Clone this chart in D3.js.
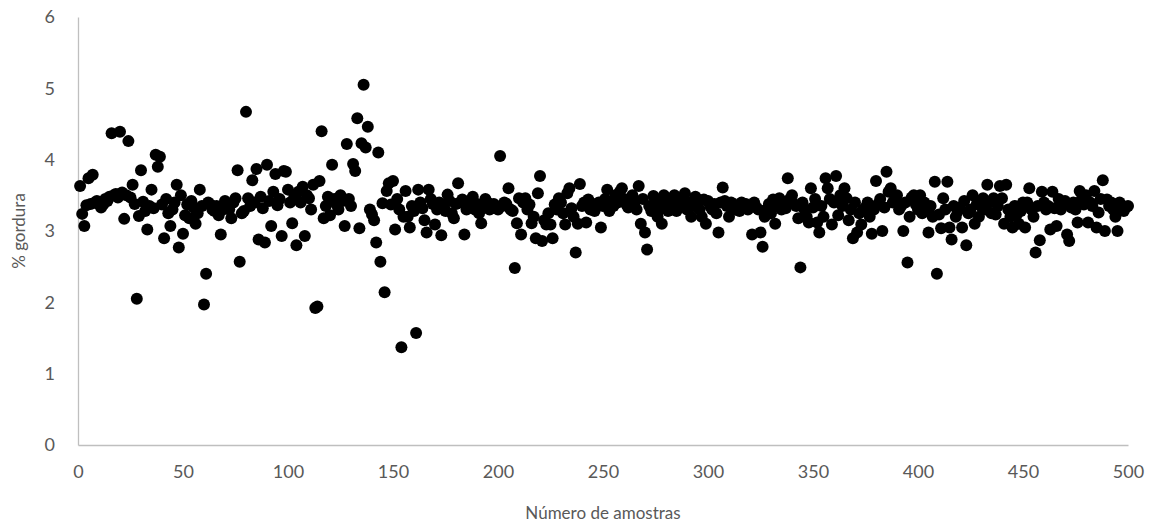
<!DOCTYPE html>
<html>
<head>
<meta charset="utf-8">
<script src="https://cdn.jsdelivr.net/npm/d3@7"></script>
<style>
  body { margin: 0; background: #fff; }
  text { font-family: Lato, "Open Sans", sans-serif; fill: #595959; }
</style>
</head>
<body>
<div class="chart"></div>
<script>
// Chart size
let width = 1150;
let height = 527;

// Plot area edges
let margin = { top: 17, right: 22, bottom: 82, left: 78 };

// Axis ticks
const xTicks = [0, 50, 100, 150, 200, 250, 300, 350, 400, 450, 500];
const yTicks = [0, 1, 2, 3, 4, 5, 6];

// Axis titles
const xTitle = "Número de amostras";
const yTitle = "% gordura";

// % gordura per sample (sample 1 to 500)
const gordura = [
    3.63, 3.24, 3.07, 3.36, 3.74, 3.38, 3.79, 3.40, 3.42, 3.38,
    3.33, 3.37, 3.45, 3.42, 3.48, 4.37, 3.50, 3.52, 3.47, 4.39,
    3.54, 3.17, 3.50, 4.26, 3.47, 3.65, 3.38, 2.05, 3.21, 3.85,
    3.41, 3.28, 3.02, 3.35, 3.58, 3.32, 4.07, 3.90, 4.04, 3.37,
    2.90, 3.45, 3.25, 3.07, 3.30, 3.40, 3.65, 2.77, 3.50, 2.96,
    3.22, 3.37, 3.18, 3.42, 3.33, 3.10, 3.25, 3.58, 3.35, 1.97,
    2.40, 3.40, 3.37, 3.30, 3.28, 3.35, 3.22, 2.95, 3.30, 3.42,
    3.39, 3.30, 3.18, 3.40, 3.46, 3.85, 2.57, 3.25, 3.28, 4.67,
    3.46, 3.35, 3.71, 3.40, 3.87, 2.88, 3.48, 3.32, 2.84, 3.93,
    3.42, 3.07, 3.55, 3.80, 3.36, 3.45, 2.93, 3.84, 3.83, 3.58,
    3.40, 3.11, 3.48, 2.80, 3.55, 3.40, 3.62, 2.93, 3.50, 3.46,
    3.30, 3.65, 1.92, 1.94, 3.70, 4.40, 3.18, 3.35, 3.48, 3.22,
    3.93, 3.45, 3.38, 3.30, 3.50, 3.42, 3.07, 4.22, 3.45, 3.35,
    3.94, 3.84, 4.58, 3.04, 4.23, 5.05, 4.17, 4.46, 3.30, 3.23,
    3.15, 2.84, 4.10, 2.57, 3.39, 2.14, 3.56, 3.67, 3.37, 3.70,
    3.02, 3.45, 3.30, 1.37, 3.20, 3.56, 3.20, 3.05, 3.35, 3.28,
    1.57, 3.58, 3.40, 3.32, 3.15, 2.98, 3.58, 3.45, 3.38, 3.09,
    3.30, 3.40, 2.94, 3.36, 3.28, 3.51, 3.42, 3.25, 3.18, 3.38,
    3.67, 3.40, 3.44, 2.95, 3.30, 3.35, 3.40, 3.48, 3.30, 3.38,
    3.25, 3.11, 3.35, 3.45, 3.40, 3.30, 3.32, 3.38, 3.35, 3.30,
    4.05, 3.35, 3.40, 3.38, 3.60, 3.30, 3.28, 2.48, 3.11, 3.46,
    2.95, 3.40, 3.46, 3.30, 3.37, 3.11, 3.20, 2.90, 3.53, 3.77,
    2.86, 3.15, 3.09, 3.25, 3.09, 2.90, 3.37, 3.30, 3.46, 3.40,
    3.25, 3.09, 3.53, 3.60, 3.32, 3.20, 2.70, 3.10, 3.66, 3.35,
    3.40, 3.12, 3.44, 3.30, 3.38, 3.28, 3.35, 3.40, 3.05, 3.35,
    3.45, 3.58, 3.28, 3.40, 3.35, 3.50, 3.40, 3.55, 3.60, 3.45,
    3.38, 3.33, 3.45, 3.50, 3.40, 3.30, 3.63, 3.10, 3.45, 2.98,
    2.74, 3.35, 3.28, 3.49, 3.40, 3.20, 3.30, 3.10, 3.50, 3.40,
    3.28, 3.45, 3.38, 3.50, 3.28, 3.40, 3.35, 3.45, 3.53, 3.30,
    3.40, 3.20, 3.35, 3.48, 3.44, 3.30, 3.20, 3.44, 3.10, 3.42,
    3.35, 3.30, 3.38, 3.25, 2.98, 3.40, 3.61, 3.42, 3.35, 3.20,
    3.40, 3.38, 3.30, 3.35, 3.28, 3.40, 3.32, 3.38, 3.30, 3.35,
    2.95, 3.40, 3.33, 3.30, 2.98, 2.78, 3.20, 3.30, 3.38, 3.25,
    3.44, 3.10, 3.35, 3.46, 3.30, 3.40, 3.32, 3.74, 3.45, 3.50,
    3.38, 3.35, 3.18, 2.49, 3.40, 3.30, 3.20, 3.12, 3.60, 3.33,
    3.45, 3.12, 2.98, 3.35, 3.20, 3.74, 3.60, 3.45, 3.09, 3.40,
    3.77, 3.22, 3.50, 3.35, 3.60, 3.46, 3.15, 3.30, 2.90, 3.40,
    2.98, 3.25, 3.09, 3.30, 3.33, 3.40, 3.20, 2.96, 3.30, 3.70,
    3.38, 3.45, 3.00, 3.33, 3.83, 3.55, 3.60, 3.40, 3.45, 3.50,
    3.30, 3.35, 3.00, 3.40, 2.56, 3.20, 3.47, 3.50, 3.37, 3.30,
    3.50, 3.25, 3.40, 3.30, 2.98, 3.35, 3.20, 3.69, 2.40, 3.23,
    3.04, 3.46, 3.30, 3.69, 3.05, 2.88, 3.35, 3.20, 3.28, 3.33,
    3.05, 3.42, 2.80, 3.25, 3.30, 3.50, 3.10, 3.38, 3.20, 3.35,
    3.46, 3.30, 3.65, 3.40, 3.25, 3.46, 3.23, 3.35, 3.63, 3.46,
    3.10, 3.65, 3.30, 3.20, 3.05, 3.35, 3.23, 3.10, 3.28, 3.40,
    3.05, 3.40, 3.60, 3.30, 3.20, 2.70, 3.35, 2.87, 3.55, 3.40,
    3.30, 3.35, 3.02, 3.55, 3.32, 3.07, 3.45, 3.30, 3.38, 3.42,
    2.95, 2.86, 3.33, 3.40, 3.30, 3.12, 3.56, 3.45, 3.37, 3.50,
    3.12, 3.40, 3.35, 3.56, 3.05, 3.26, 3.45, 3.71, 3.00, 3.44,
    3.35, 3.40, 3.30, 3.20, 3.00, 3.40, 3.30, 3.28, 3.33, 3.35
];

// Pair sample number with value
const samples = gordura.map((v, i) => ({ n: i + 1, v: v }));

let svg = d3.select(".chart").append("svg")
    .attr("width", width)
    .attr("height", height);

const xScale = d3.scaleLinear()
    .domain([0, 500])
    .range([margin.left, width - margin.right]);

const yScale = d3.scaleLinear()
    .domain([0, 6])
    .range([height - margin.bottom, margin.top]);

// x axis, no tick marks
svg.append("g")
    .attr("transform", `translate(0, ${height - margin.bottom})`)
    .call(d3.axisBottom(xScale).tickValues(xTicks).tickFormat(d3.format("d")).tickSize(0).tickPadding(20));

// y axis, no tick marks
svg.append("g")
    .attr("transform", `translate(${margin.left}, 0)`)
    .call(d3.axisLeft(yScale).tickValues(yTicks).tickFormat(d3.format("d")).tickSize(0).tickPadding(23));

svg.selectAll(".domain").attr("stroke", "#bfbfbf").attr("stroke-width", 1.3);
svg.selectAll(".tick text")
    .style("font-family", "Lato, 'Open Sans', sans-serif")
    .style("font-size", "18px")
    .attr("fill", "#595959");

// points
svg.append("g").selectAll("circle")
    .data(samples)
    .enter().append("circle")
    .attr("cx", d => xScale(d.n))
    .attr("cy", d => yScale(d.v))
    .attr("r", 6)
    .attr("fill", "#000");

// axis titles
svg.append("text")
    .attr("x", (margin.left + width - margin.right) / 2)
    .attr("y", 519)
    .attr("text-anchor", "middle")
    .style("font-size", "17px")
    .text(xTitle);

svg.append("text")
    .attr("transform", `translate(25, ${(margin.top + height - margin.bottom) / 2}) rotate(-90)`)
    .attr("text-anchor", "middle")
    .style("font-size", "17px")
    .text(yTitle);
</script>
</body>
</html>
